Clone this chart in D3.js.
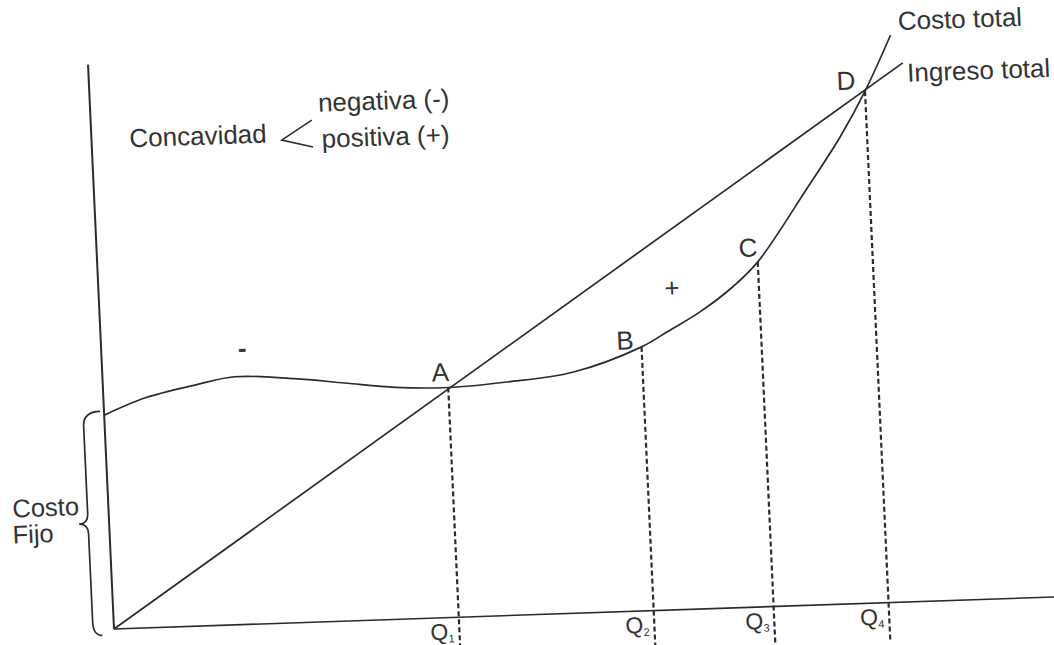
<!DOCTYPE html>
<html>
<head>
<meta charset="utf-8">
<script src="https://cdn.jsdelivr.net/npm/d3@7/dist/d3.min.js"></script>
<style>
  html, body { margin: 0; padding: 0; background: #fff; }
  svg { display: block; }
  text { font-family: "Liberation Sans", Arial, Helvetica, sans-serif; fill: #333; }
</style>
</head>
<body>
<svg id="chart" width="1054" height="645"></svg>
<script>
// ---- data (quantity units along the horizontal axis, money units upward) ----
const costQ      = [0, 42, 92, 132, 192, 242, 292, 345, 404, 470, 540, 566, 600, 634, 660, 712, 748, 775, 803];
const costTotal  = [214, 230, 241, 248, 244, 238, 232, 230, 233.5, 241, 264, 278, 297, 321, 345, 416, 467, 512, 567];
const revenueQ   = [0, 814];
const revenue    = [0, 539];
const qMarks     = [345, 540, 660, 775];
const qNames     = ["1", "2", "3", "4"];
const pointNames = ["A", "B", "C", "D"];
const axisMaxQ   = 960;
const axisMaxV   = 565;

(function () {
const svg = d3.select("#chart");
svg.append("rect").attr("width", 1054).attr("height", 645).attr("fill", "#fff");

// slight tilt of the scanned page
const g = svg.append("g")
  .attr("transform", "matrix(0.99942,-0.03406,0.04597,0.99894,114,629)");

const x = d3.scaleLinear().domain([0, 1000]).range([0, 1000]);
const y = d3.scaleLinear().domain([0, 600]).range([0, -600]);

const ink = "#2b2b2b";
const fs = 26;

// axes
g.append("line").attr("x1", x(0)).attr("y1", y(0)).attr("x2", x(0)).attr("y2", y(axisMaxV))
  .attr("stroke", ink).attr("stroke-width", 2);
g.append("line").attr("x1", x(0)).attr("y1", y(0)).attr("x2", x(axisMaxQ)).attr("y2", y(0))
  .attr("stroke", ink).attr("stroke-width", 1.6);

// revenue line
const revData = revenueQ.map((q, i) => [q, revenue[i]]);
g.append("path")
  .attr("d", d3.line().x(d => x(d[0])).y(d => y(d[1]))(revData))
  .attr("fill", "none").attr("stroke", ink).attr("stroke-width", 1.7);

// cost curve
const costData = costQ.map((q, i) => [q, costTotal[i]]);
g.append("path")
  .attr("d", d3.line().curve(d3.curveCatmullRom.alpha(0.5)).x(d => x(d[0])).y(d => y(d[1]))(costData))
  .attr("fill", "none").attr("stroke", ink).attr("stroke-width", 1.7);

// dashed verticals
const costAt = q => costTotal[costQ.indexOf(q)];
g.selectAll(".drop").data(qMarks).join("line")
  .attr("x1", d => x(d)).attr("x2", d => x(d))
  .attr("y1", d => y(costAt(d))).attr("y2", y(-40))
  .attr("stroke", ink).attr("stroke-width", 2.2).attr("stroke-dasharray", "5,3");

// Q labels
const ql = g.selectAll(".ql").data(qMarks).join("text")
  .attr("x", d => x(d) - 5).attr("y", y(0) + 22)
  .attr("text-anchor", "end").attr("font-size", 23);
ql.append("tspan").text("Q");
ql.append("tspan").attr("font-size", 11).attr("dy", 3).text((d, i) => qNames[i]);

// point labels
const offs = [[-16, -6.5], [-25, 2], [-18.5, -5.5], [-28, -2]];
g.selectAll(".pl").data(qMarks).join("text")
  .attr("x", (d, i) => x(d) + offs[i][0])
  .attr("y", (d, i) => y(costAt(d)) + offs[i][1])
  .attr("font-size", fs)
  .text((d, i) => pointNames[i]);

// curve names
g.append("text").attr("x", x(811)).attr("y", y(572)).attr("font-size", fs).text("Costo total");
g.append("text").attr("x", x(818)).attr("y", y(520)).attr("font-size", fs).text("Ingreso total");

// concavity signs
g.append("text").attr("x", x(141)).attr("y", y(275.5) + 8).attr("text-anchor", "middle")
  .attr("font-size", 26).attr("font-weight", "bold").text("-");
g.append("text").attr("x", x(573)).attr("y", y(322) + 9).attr("text-anchor", "middle")
  .attr("font-size", 26).text("+");

// concavity legend
g.append("text").attr("x", x(38)).attr("y", y(481)).attr("font-size", fs).text("Concavidad");
g.append("text").attr("x", x(228)).attr("y", y(510)).attr("font-size", fs).text("negativa (-)");
g.append("text").attr("x", x(230)).attr("y", y(474)).attr("font-size", fs).text("positiva (+)");
g.append("path")
  .attr("d", `M${x(221)},${y(502)} L${x(190)},${y(483)} L${x(221)},${y(475)}`)
  .attr("fill", "none").attr("stroke", ink).attr("stroke-width", 1.5);

// fixed cost brace
const bTop = y(costTotal[0] + 4), bBot = y(-6), bMid = (bTop + bBot) / 2, bx = x(-21);
const bp = d3.path();
bp.moveTo(x(-4), bTop);
bp.quadraticCurveTo(bx, bTop, bx, bTop + 14);
bp.lineTo(bx, bMid - 10);
bp.quadraticCurveTo(bx, bMid, x(-30), bMid);
bp.quadraticCurveTo(bx, bMid, bx, bMid + 10);
bp.lineTo(bx, bBot - 14);
bp.quadraticCurveTo(bx, bBot, x(-12), bBot);
g.append("path").attr("d", bp.toString()).attr("fill", "none").attr("stroke", ink).attr("stroke-width", 1.7);

g.append("text").attr("x", x(-96)).attr("y", y(115)).attr("font-size", 25.5).text("Costo");
g.append("text").attr("x", x(-97)).attr("y", y(89)).attr("font-size", 25.5).text("Fijo");
})();
</script>
</body>
</html>
